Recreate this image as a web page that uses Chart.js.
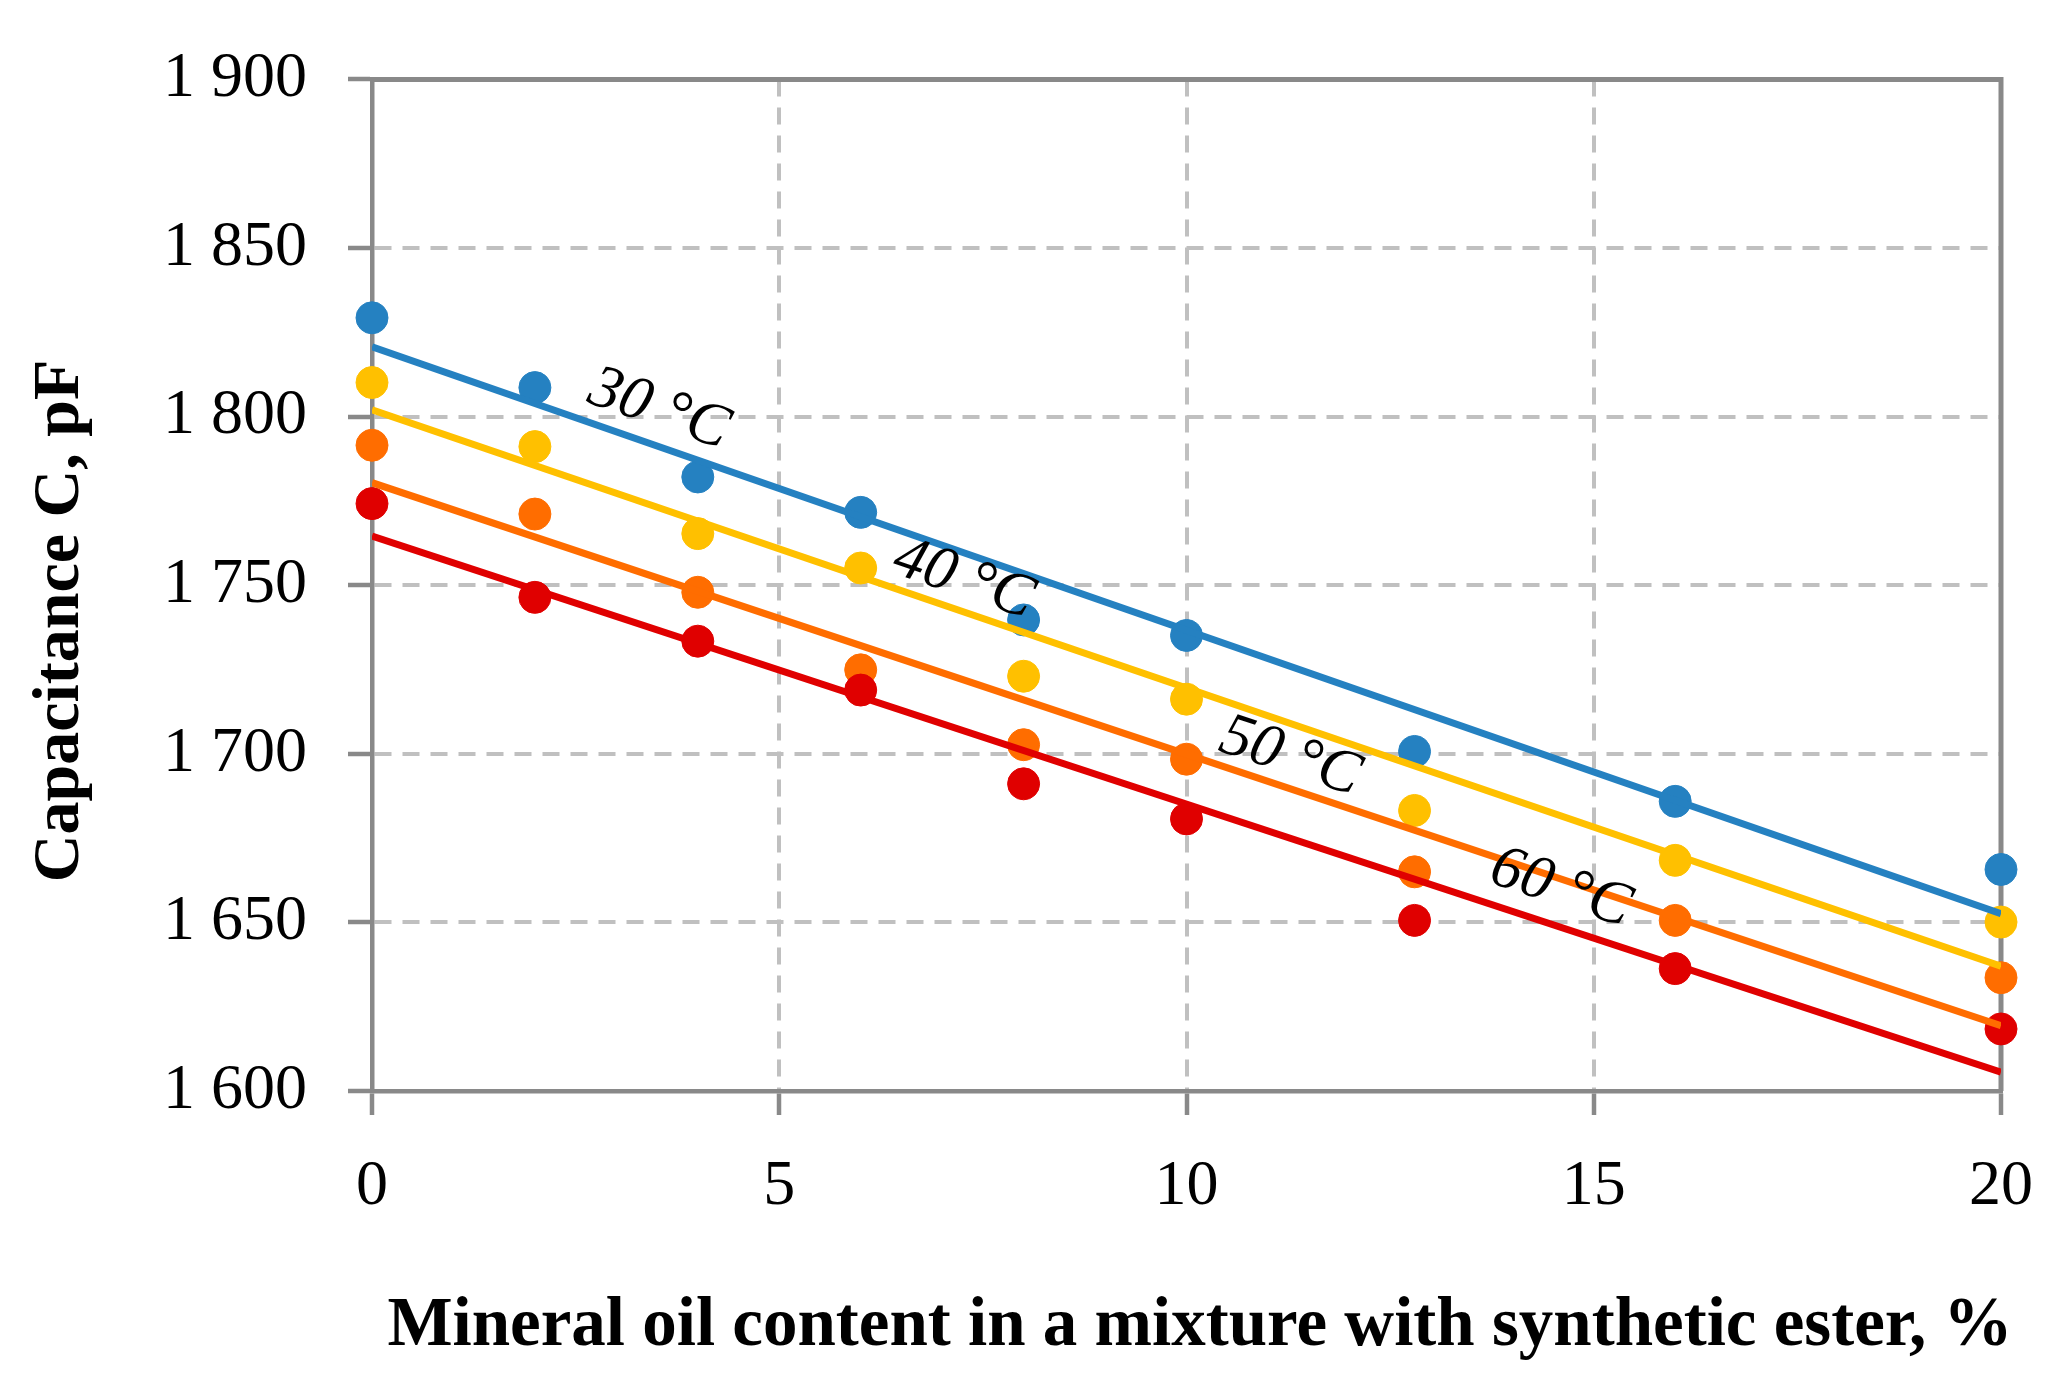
<!DOCTYPE html>
<html>
<head>
<meta charset="utf-8">
<script src="https://cdn.jsdelivr.net/npm/chart.js@4"></script>
<style>
  html, body { margin: 0; padding: 0; background: #fff; }
  canvas { display: block; }
</style>
</head>
<body>
<canvas id="chart" width="2067" height="1397" style="width:2067px;height:1397px"></canvas>
<script>
// Capacitance vs. mineral oil content, four temperatures

const xValues = [0, 2, 4, 6, 8, 10, 12.8, 16, 20];
const c30 = [1829.3, 1808.6, 1782.1, 1771.6, 1739.7, 1735.1, 1700.7, 1685.9, 1665.7];
const c40 = [1810.1, 1791.1, 1765.3, 1755.1, 1723.0, 1716.2, 1683.2, 1668.4, 1650.1];
const c50 = [1791.5, 1771.1, 1747.9, 1724.9, 1702.7, 1698.4, 1665.0, 1650.6, 1633.6];
const c60 = [1774.2, 1746.4, 1733.4, 1718.9, 1691.1, 1680.7, 1650.6, 1636.3, 1618.4];

// trend line end points
const trendX = [0, 20];
const trend30 = [1820.7, 1652.6];
const trend40 = [1802.0, 1637.0];
const trend50 = [1780.4, 1619.4];
const trend60 = [1764.6, 1605.6];

// in-plot labels: text, x, y (data units)
const labelText = ['30 °C', '40 °C', '50 °C', '60 °C'];
const labelX = [3.52, 7.26, 11.27, 14.59];
const labelY = [1802, 1751.6, 1699, 1660];

const xTicks = [0, 5, 10, 15, 20];
const yTicks = [1600, 1650, 1700, 1750, 1800, 1850, 1900];

const xTitle = 'Mineral oil content in a mixture with synthetic ester, %';
const yTitle = 'Capacitance C, pF';

const BLUE = '#2581c1', YELLOW = '#ffc000', ORANGE = '#ff6d00', RED = '#e00000';
const AXIS = '#898989', GRID = '#c0c0c0';
const SERIF = "'Liberation Serif', 'Times New Roman', serif";

const toPts = (xs, ys) => xs.map((x, i) => ({ x: x, y: ys[i] }));

function trendSet(ys, color) {
    return {
        data: toPts(trendX, ys),
        showLine: true,
        borderColor: color,
        borderWidth: 7,
        borderCapStyle: 'butt',
        pointRadius: 0,
        order: 0
    };
}

function pointSet(ys, color) {
    return {
        data: toPts(xValues, ys),
        showLine: false,
        backgroundColor: color,
        borderColor: color,
        borderWidth: 1,
        pointRadius: 16,
        clip: false,
        order: 1
    };
}

const trendSets = [trend30, trend40, trend50, trend60];

const framePlugin = {
    id: 'frame',
    beforeDatasetsDraw(chart) {
        const { ctx, chartArea: a } = chart;
        ctx.save();
        ctx.strokeStyle = AXIS;
        ctx.lineWidth = 5;
        ctx.beginPath();
        ctx.moveTo(a.left - 2, a.top);
        ctx.lineTo(a.right, a.top);
        ctx.lineTo(a.right, a.bottom);
        ctx.stroke();
        ctx.restore();
    }
};

const textPlugin = {
    id: 'texts',
    afterDatasetsDraw(chart) {
        const { ctx } = chart;
        const xs = chart.scales.x, ys = chart.scales.y;
        ctx.save();
        ctx.fillStyle = '#000';
        ctx.font = 'italic 62px ' + SERIF;
        ctx.textAlign = 'center';
        ctx.textBaseline = 'middle';
        labelText.forEach((t, i) => {
            const tr = trendSets[i];
            const dx = xs.getPixelForValue(trendX[1]) - xs.getPixelForValue(trendX[0]);
            const dy = ys.getPixelForValue(tr[1]) - ys.getPixelForValue(tr[0]);
            ctx.save();
            ctx.translate(xs.getPixelForValue(labelX[i]), ys.getPixelForValue(labelY[i]));
            ctx.rotate(Math.atan2(dy, dx));
            ctx.fillText(t, 0, 0);
            ctx.restore();
        });
        ctx.restore();
    },
    afterDraw(chart) {
        const { ctx } = chart;
        ctx.save();
        ctx.fillStyle = '#000';
        ctx.textAlign = 'center';
        ctx.textBaseline = 'alphabetic';
        ctx.font = 'bold 69px ' + SERIF;
        ctx.fillText(xTitle, 1200, 1345);
        ctx.font = 'bold 66px ' + SERIF;
        ctx.translate(78, 621);
        ctx.rotate(-Math.PI / 2);
        ctx.fillText(yTitle, 0, 0);
        ctx.restore();
    }
};

new Chart(document.getElementById('chart'), {
    type: 'scatter',
    data: {
        datasets: [
            trendSet(trend30, BLUE),
            trendSet(trend40, YELLOW),
            trendSet(trend50, ORANGE),
            trendSet(trend60, RED),
            pointSet(c60, RED),
            pointSet(c50, ORANGE),
            pointSet(c40, YELLOW),
            pointSet(c30, BLUE)
        ]
    },
    options: {
        responsive: false,
        devicePixelRatio: 1,
        animation: false,
        layout: { padding: { left: 0, top: 73, right: 66, bottom: 0 } },
        plugins: {
            legend: { display: false },
            tooltip: { enabled: false }
        },
        scales: {
            x: {
                type: 'linear',
                min: 0,
                max: 20,
                afterFit(s) { s.height = 306; },
                afterBuildTicks(s) { s.ticks = xTicks.map(v => ({ value: v })); },
                ticks: {
                    color: '#000',
                    font: { family: SERIF, size: 64 },
                    padding: 34
                },
                grid: {
                    color: GRID,
                    lineWidth: 4,
                    tickColor: AXIS,
                    tickWidth: 4.5,
                    tickLength: 24,
                    tickBorderDash: []
                },
                border: { color: AXIS, width: 4.5, dash: [17, 11] }
            },
            y: {
                type: 'linear',
                min: 1600,
                max: 1900,
                afterFit(s) { s.width = 372; },
                afterBuildTicks(s) { s.ticks = yTicks.map(v => ({ value: v })); },
                ticks: {
                    color: '#000',
                    font: { family: SERIF, size: 64 },
                    padding: 41,
                    callback: v => String(v).replace(/^(\d)(\d{3})$/, '$1 $2')
                },
                grid: {
                    color: GRID,
                    lineWidth: 4,
                    tickColor: AXIS,
                    tickWidth: 4.5,
                    tickLength: 24,
                    tickBorderDash: []
                },
                border: { color: AXIS, width: 4.5, dash: [17, 11] }
            }
        }
    },
    plugins: [framePlugin, textPlugin]
});
</script>
</body>
</html>
